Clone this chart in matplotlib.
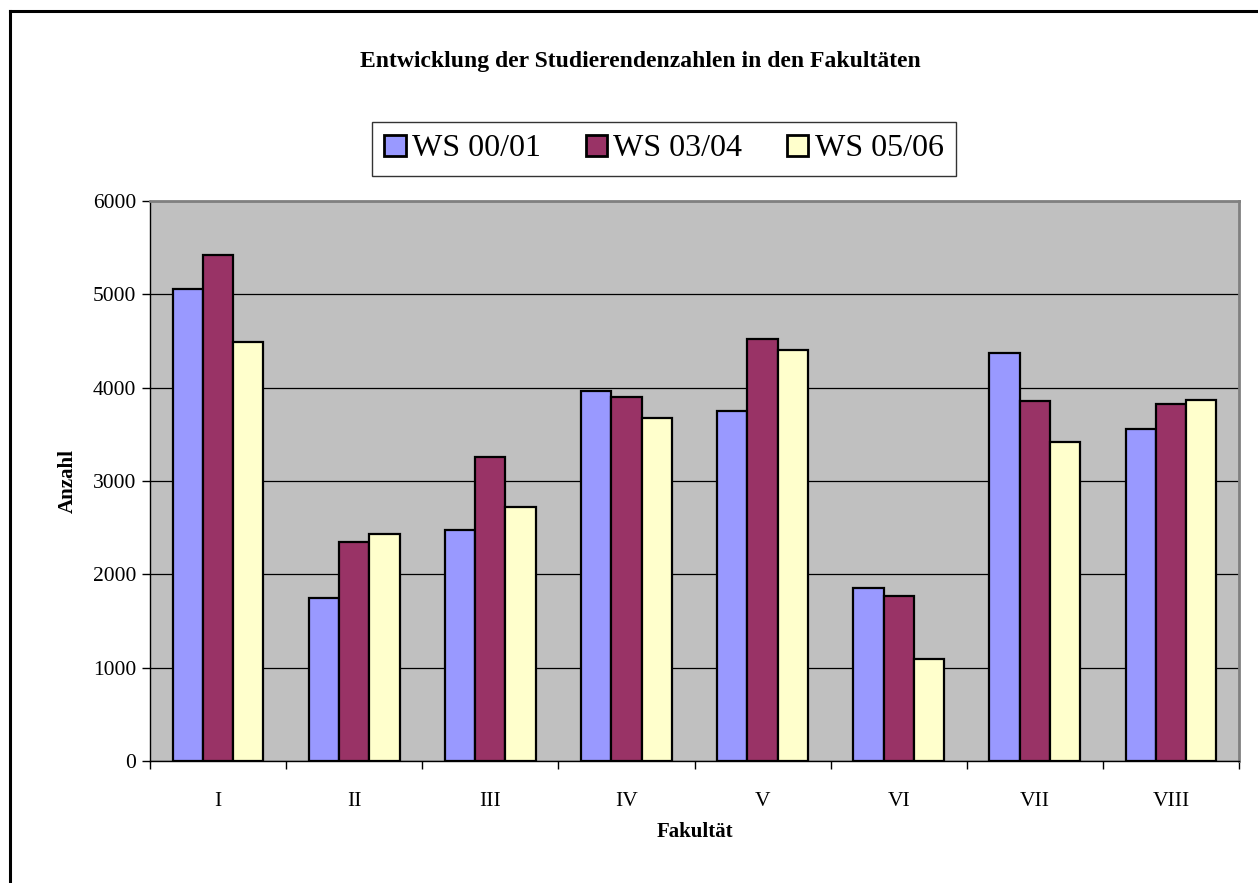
import numpy as np
import matplotlib
matplotlib.use("Agg")
import matplotlib.pyplot as plt
from matplotlib.patches import Patch
from matplotlib.lines import Line2D

plt.rcParams["font.family"] = ["Liberation Serif", "DejaVu Serif"]

# data
faculties = ["I", "II", "III", "IV", "V", "VI", "VII", "VIII"]
series_names = ["WS 00/01", "WS 03/04", "WS 05/06"]
ws_00_01 = [5060, 1745, 2475, 3960, 3750, 1855, 4370, 3555]
ws_03_04 = [5425, 2345, 3255, 3905, 4525, 1765, 3860, 3825]
ws_05_06 = [4490, 2430, 2720, 3675, 4405, 1095, 3420, 3870]
colors = ["#9999FF", "#993366", "#FFFFCC"]

W, H = 1258, 883
fig = plt.figure(figsize=(W / 100, H / 100), dpi=100)

# plot area in pixel coords
left, right, top, bottom = 150, 1239, 201, 761
ax = fig.add_axes([left / W, 1 - bottom / H, (right - left) / W, (bottom - top) / H])
ax.set_facecolor("#C0C0C0")

x = np.arange(len(faculties))
bar_w = 1 / 4.5
for i, (vals, col, name) in enumerate(zip([ws_00_01, ws_03_04, ws_05_06], colors, series_names)):
    ax.bar(x + (i - 1) * bar_w, vals, width=bar_w, color=col, edgecolor="black",
           linewidth=1.6, label=name, zorder=3)

ax.set_xlim(-0.5, len(faculties) - 0.5)
ax.set_ylim(0, 6000)
ax.set_yticks(np.arange(0, 6001, 1000))
ax.yaxis.grid(True, color="black", linewidth=0.9, zorder=0)
ax.set_axisbelow(True)

# category labels centred, tick marks between categories
ax.set_xticks(x)
ax.set_xticklabels(faculties, fontsize=15.5)
ax.tick_params(axis="x", length=0, pad=22)
ax.set_xticks(np.arange(-0.5, len(faculties)), minor=True)
ax.tick_params(axis="x", which="minor", length=6, direction="out", width=1)
ax.tick_params(axis="y", labelsize=15.5, length=6, direction="out", width=1, pad=4)

for side in ["top", "right"]:
    ax.spines[side].set_color("#808080")
    ax.spines[side].set_linewidth(2)
for side in ["left", "bottom"]:
    ax.spines[side].set_color("black")
    ax.spines[side].set_linewidth(1)

ax.set_ylabel("Anzahl", fontsize=15, fontweight="bold", labelpad=11)
ax.set_xlabel("Fakultät", fontsize=15, fontweight="bold", labelpad=8)

fig.text(640 / W, 1 - 61 / H, "Entwicklung der Studierendenzahlen in den Fakultäten",
         ha="center", va="center", fontsize=17, fontweight="bold")

handles = [Patch(facecolor=c, edgecolor="black", linewidth=2) for c in colors]
leg = fig.legend(handles, series_names, loc="center",
                 bbox_to_anchor=((372 + 956) / 2 / W, 1 - 149 / H),
                 ncol=3, fontsize=23, frameon=True, fancybox=False,
                 handlelength=0.66, handleheight=0.66, handletextpad=0.19,
                 columnspacing=1.42, borderpad=0.4, borderaxespad=0)
leg.get_frame().set_edgecolor("black")
leg.get_frame().set_linewidth(1)

# outer chart border (top and left visible)
fig.add_artist(Line2D([10 / W, 10 / W], [0, 1 - 11 / H], color="black", linewidth=2.2,
                      transform=fig.transFigure))
fig.add_artist(Line2D([10 / W, 1], [1 - 11 / H, 1 - 11 / H], color="black", linewidth=2.2,
                      transform=fig.transFigure))

fig.savefig("out.png", dpi=100)
